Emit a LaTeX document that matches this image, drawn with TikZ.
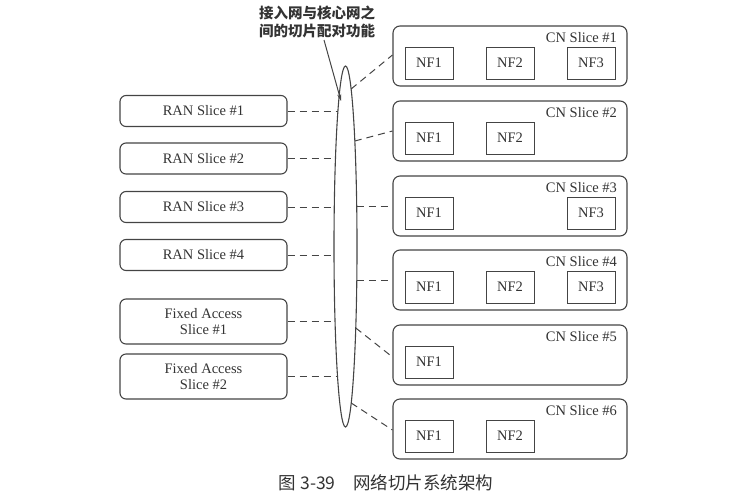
\documentclass[tikz,border=0pt]{standalone}
\usepackage{fontspec}
\setmainfont{Liberation Serif}
\newfontfamily\cjk{Noto Sans CJK SC}
\usetikzlibrary{shapes.geometric,arrows.meta}
\definecolor{ln}{HTML}{444444}
\definecolor{tx}{HTML}{333333}
\begin{document}
\begin{tikzpicture}[x=1pt,y=-1pt,
  every node/.style={text=tx,font=\fontsize{14.5}{16.5}\selectfont},
  slicebox/.style={draw=ln,line width=1.1pt,rounded corners=6pt,minimum width=167pt,inner sep=0pt,align=center},
  cnbox/.style={draw=ln,line width=1.1pt,rounded corners=7pt,minimum width=234pt,minimum height=60pt,inner sep=0pt},
  nfbox/.style={draw=ln,line width=1pt,minimum width=48pt,minimum height=32pt,inner sep=0pt},
  cnlabel/.style={anchor=east,inner sep=0pt},
  conn/.style={draw=ln,line width=1pt,dash pattern=on 7pt off 5pt}]
\useasboundingbox (0,0) rectangle (746,493);
% left slices
\node[slicebox,minimum height=31pt] (r1) at (203.5,111) {RAN Slice \#1};
\node[slicebox,minimum height=31pt] (r2) at (203.5,158.5) {RAN Slice \#2};
\node[slicebox,minimum height=31pt] (r3) at (203.5,207) {RAN Slice \#3};
\node[slicebox,minimum height=31pt] (r4) at (203.5,255) {RAN Slice \#4};
\node[slicebox,minimum height=45pt] (f1) at (203.5,321.5) {Fixed Access\\Slice \#1};
\node[slicebox,minimum height=45pt] (f2) at (203.5,376.5) {Fixed Access\\Slice \#2};
% pairing ellipse
\node[ellipse,draw=ln,line width=1.1pt,minimum width=23pt,minimum height=361pt,inner sep=0pt] (pair) at (345.5,246.5) {};
% CN slices
\foreach \i/\t in {1/26,2/101,3/176,4/250,5/325,6/399}{
  \node[cnbox] (cn\i) at (510,\t+30) {};
  \node[cnlabel] (cnl\i) at (617,\t+12) {CN Slice \#\i};
}
\node[nfbox] (a1) at (429,63) {NF1};
\node[nfbox] (b1) at (510,63) {NF2};
\node[nfbox] (c1) at (591,63) {NF3};
\node[nfbox] (a2) at (429,138) {NF1};
\node[nfbox] (b2) at (510,138) {NF2};
\node[nfbox] (a3) at (429,213) {NF1};
\node[nfbox] (c3) at (591,213) {NF3};
\node[nfbox] (a4) at (429,287) {NF1};
\node[nfbox] (b4) at (510,287) {NF2};
\node[nfbox] (c4) at (591,287) {NF3};
\node[nfbox] (a5) at (429,362) {NF1};
\node[nfbox] (a6) at (429,436) {NF1};
\node[nfbox] (b6) at (510,436) {NF2};
% points on ellipse border
\coordinate (el1) at (337.9,111);
\coordinate (el2) at (335.5,158.5);
\coordinate (el3) at (334.3,207);
\coordinate (el4) at (334.0,255);
\coordinate (el5) at (335.0,321.5);
\coordinate (el6) at (337.5,376.5);
\coordinate (er1) at (351.1,89);
\coordinate (er2) at (354.8,141);
\coordinate (er3) at (356.7,206);
\coordinate (er4) at (356.8,280);
\coordinate (er5) at (355.8,328);
\coordinate (er6) at (351.2,403);
% connectors
\draw[conn] (r1.east) -- (el1);
\draw[conn] (r2.east) -- (el2);
\draw[conn] (r3.east) -- (el3);
\draw[conn] (r4.east) -- (el4);
\draw[conn] (f1.east) -- (el5);
\draw[conn] (f2.east) -- (el6);
\draw[conn] (er1) -- ([yshift=1pt]cn1.west);
\draw[conn] (er2) -- (cn2.west);
\draw[conn] (er3) -- (cn3.west);
\draw[conn] (er4) -- (cn4.west);
\draw[conn] (er5) -- ([yshift=-2pt]cn5.west);
\draw[conn] (er6) -- ([yshift=-1pt]cn6.west);
% callout
\node[font=\cjk\bfseries\fontsize{14.5}{18}\selectfont,align=center,inner sep=0pt] (lbl) at (317,22) {接入网与核心网之\\间的切片配对功能};
\coordinate (lblfoot) at (324,40);
\coordinate (tip) at (341,101);
\draw[draw=ln,line width=1pt,-{Stealth[length=7pt,width=4pt]}] (lblfoot) -- (tip);
% caption
\node[font=\cjk\fontsize{17.5}{19}\selectfont,inner sep=0pt] (cap) at (386,483) {图 3-39\hspace{1em}网络切片系统架构};
\end{tikzpicture}
\end{document}
